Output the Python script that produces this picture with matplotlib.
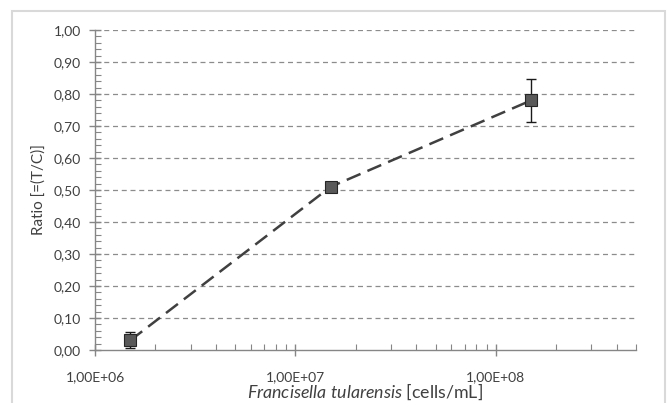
import matplotlib

matplotlib.use("Agg")
import matplotlib.pyplot as plt
from matplotlib.patches import Rectangle
from matplotlib.ticker import FixedLocator, FuncFormatter, LogLocator, MultipleLocator

# Concentration series (cells/mL) and measured T/C ratio
concentration = [1.5e6, 1.5e7, 1.5e8]
ratio = [0.03, 0.51, 0.78]
ratio_err = [0.025, 0.008, 0.068]

x_ticks = [1e6, 1e7, 1e8]
y_ticks = [0.0, 0.1, 0.2, 0.3, 0.4, 0.5, 0.6, 0.7, 0.8, 0.9, 1.0]

plt.rcParams["font.family"] = ["Lato", "DejaVu Sans"]
plt.rcParams["mathtext.fontset"] = "custom"
plt.rcParams["mathtext.it"] = "Lato:italic"
plt.rcParams["mathtext.rm"] = "Lato"

AXIS_GREY = "#868686"
TEXT = "#404040"

fig = plt.figure(figsize=(6.68, 4.03), dpi=100)
fig.patch.set_facecolor("white")
ax = fig.add_axes([0.1422, 0.1315, 0.9520 - 0.1422, 0.9256 - 0.1315])

# chart area border
fig.add_artist(Rectangle((12 / 668, -0.1), (665 - 12) / 668, 1.1 - 11 / 403,
                         transform=fig.transFigure, fill=False,
                         edgecolor="#d9d9d9", linewidth=1.5))

ax.set_xscale("log")
ax.set_xlim(1e6, 5e8)
ax.set_ylim(0, 1.0)

for y in y_ticks[1:]:
    ax.axhline(y, color="#8c8c8c", linestyle=(0, (4, 3)), linewidth=0.9, zorder=1)

ax.plot(concentration, ratio, color="#404040", linestyle=(0, (6, 3)),
        linewidth=1.8, zorder=2)
ax.errorbar(concentration, ratio, yerr=ratio_err, fmt="none", ecolor="#1a1a1a",
            elinewidth=1.0, capsize=3.5, capthick=1.0, zorder=3)
ax.plot(concentration, ratio, linestyle="none", marker="s", markersize=9.2,
        markerfacecolor="#595959", markeredgecolor="#262626",
        markeredgewidth=0.8, zorder=4)

for side in ("top", "right"):
    ax.spines[side].set_visible(False)
for side in ("left", "bottom"):
    ax.spines[side].set_color(AXIS_GREY)
    ax.spines[side].set_linewidth(1.0)

ax.xaxis.set_major_locator(FixedLocator(x_ticks))
ax.xaxis.set_minor_locator(LogLocator(base=10, subs=range(2, 10)))
ax.xaxis.set_major_formatter(FuncFormatter(
    lambda v, p: ("%.2E" % v).replace(".", ",")))
ax.xaxis.set_minor_formatter(FuncFormatter(lambda v, p: ""))

ax.yaxis.set_major_locator(FixedLocator(y_ticks))
ax.yaxis.set_minor_locator(MultipleLocator(0.02))
ax.yaxis.set_major_formatter(FuncFormatter(
    lambda v, p: ("%.2f" % v).replace(".", ",")))

ax.tick_params(axis="both", which="major", direction="inout", length=8,
               width=1.0, color=AXIS_GREY, labelsize=10, labelcolor=TEXT)
ax.tick_params(axis="both", which="minor", direction="in", length=4,
               width=0.8, color=AXIS_GREY)
ax.tick_params(axis="x", which="major", pad=11)
ax.tick_params(axis="y", which="major", pad=6)

ax.set_ylabel("Ratio [=(T/C)]", fontsize=11, color=TEXT, labelpad=6)
fig.text(0.546, 11 / 403, r"$\it{Francisella\ tularensis}$ [cells/mL]",
         fontsize=12.8, color=TEXT, ha="center", va="center")

fig.savefig("out.png", dpi=100)
